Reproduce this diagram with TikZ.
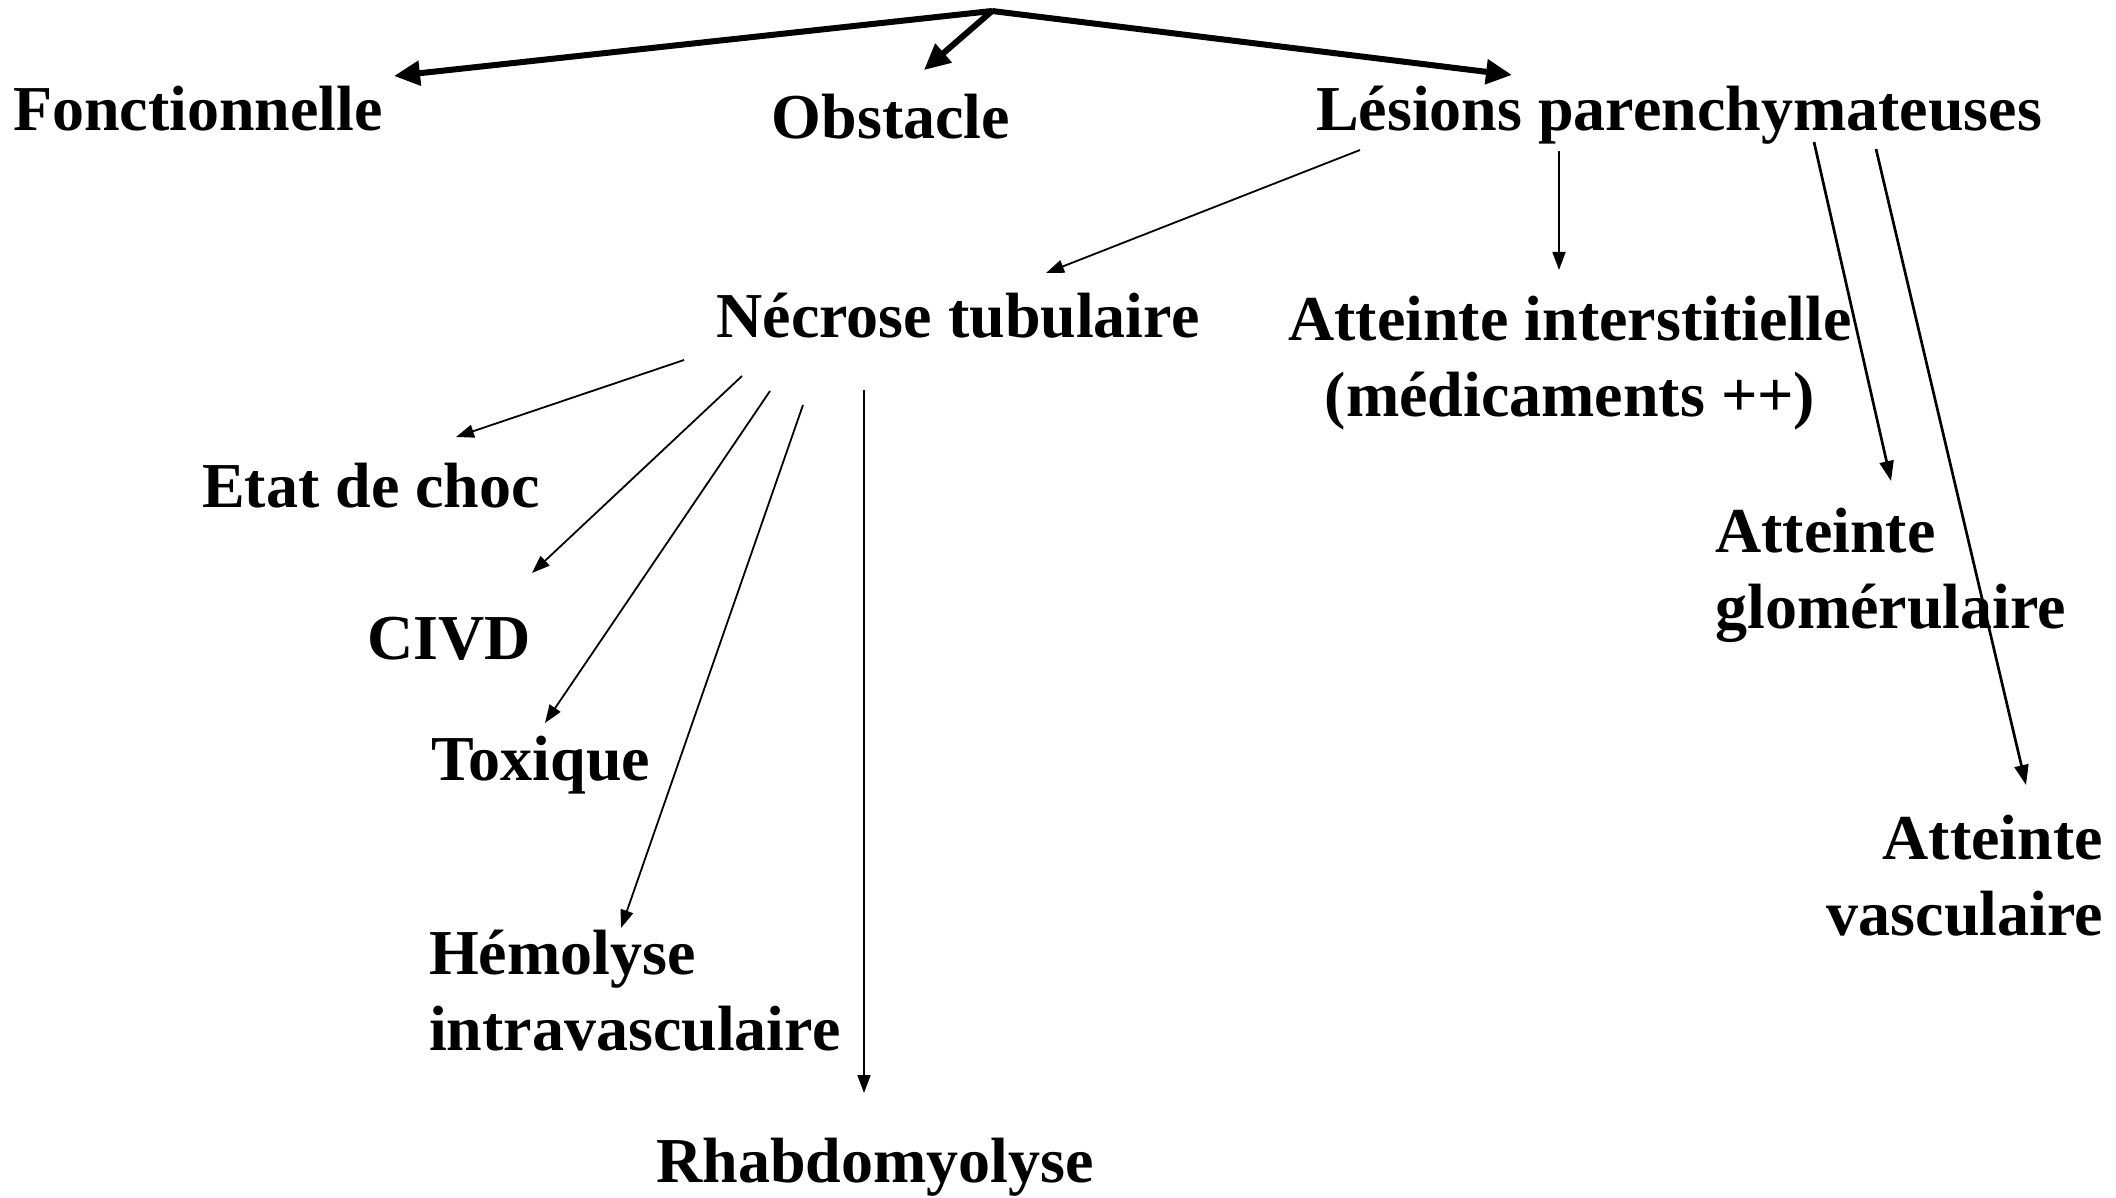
\documentclass[tikz,border=0pt]{standalone}
\usepackage{fontspec}
\setmainfont{Liberation Serif}
\usetikzlibrary{arrows.meta}
\begin{document}
\begin{tikzpicture}[x=1pt,y=-1pt,
  lbl/.style={font=\fontsize{64}{75.6}\selectfont\bfseries, inner sep=0pt, anchor=base},
  thickarr/.style={line width=6pt, -{Triangle[length=26pt,width=24pt]}},
  thinarr/.style={line width=1.8pt, -{Triangle[length=18pt,width=13pt]}},
  medarr/.style={line width=2.7pt, -{Triangle[length=20pt,width=14pt]}}]
\useasboundingbox (0,0) rectangle (2116,1198);
% labels (multi-line nodes are placed by the baseline of their last line)
\node[lbl] (fonc) at (198,131) {Fonctionnelle};
\node[lbl] (obst) at (891,139) {Obstacle};
\node[lbl] (lesions) at (1679,131) {Lésions parenchymateuses};
\node[lbl] (necrose) at (958,337) {Nécrose tubulaire};
\node[lbl, align=center] (inter) at (1570,416) {Atteinte interstitielle\\(médicaments ++)};
\node[lbl] (etat) at (371,507) {Etat de choc};
\node[lbl] (civd) at (449,659) {CIVD};
\node[lbl] (toxique) at (541,780) {Toxique};
\node[lbl, anchor=base west, align=left] (hemo) at (429,1050) {Hémolyse\\intravasculaire};
\node[lbl] (rhabdo) at (875,1182) {Rhabdomyolyse};
\node[lbl, anchor=base west, align=left] (glom) at (1715,628) {Atteinte\\glomérulaire};
\node[lbl, anchor=base east, align=right] (vasc) at (2103,935) {Atteinte\\vasculaire};
% connector end points
\coordinate (top) at (992,11);
\coordinate (foncT) at (394,76);
\coordinate (obstT) at (924,70);
\coordinate (lesT) at (1512,75);
\coordinate (lesA) at (1360,150);
\coordinate (necT) at (1046,273);
\coordinate (lesB) at (1559,151);
\coordinate (interT) at (1559,270);
\coordinate (lesC) at (1814,142);
\coordinate (glomT) at (1891,481);
\coordinate (lesD) at (1876,149);
\coordinate (vascT) at (2026,785);
\coordinate (necA) at (684,360);
\coordinate (etatT) at (456,437);
\coordinate (necB) at (742,376);
\coordinate (civdT) at (532,573);
\coordinate (necC) at (770,391);
\coordinate (toxT) at (545,723);
\coordinate (necD) at (803,405);
\coordinate (hemoT) at (621,928);
\coordinate (necE) at (864,390);
\coordinate (rhabT) at (864,1093);
% connectors
\draw[thickarr] (top) -- (foncT);
\draw[thickarr] (top) -- (obstT);
\draw[thickarr] (top) -- (lesT);
\draw[thinarr] (lesA) -- (necT);
\draw[thinarr] (lesB) -- (interT);
\draw[medarr] (lesC) -- (glomT);
\draw[medarr] (lesD) -- (vascT);
\draw[thinarr] (necA) -- (etatT);
\draw[thinarr] (necB) -- (civdT);
\draw[thinarr] (necC) -- (toxT);
\draw[thinarr] (necD) -- (hemoT);
\draw[thinarr] (necE) -- (rhabT);
\end{tikzpicture}
\end{document}
